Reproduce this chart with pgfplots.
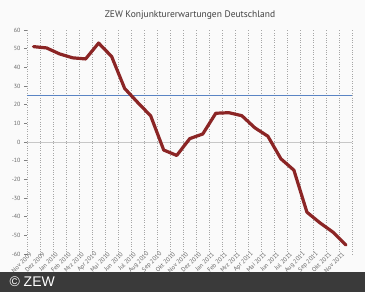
\documentclass[border=0pt]{standalone}
\usepackage{pgfplots}
\pgfplotsset{compat=1.18}
\usepackage{fontspec}
\setmainfont{PT Sans}
\newfontfamily\arialfont{Liberation Sans}
\definecolor{zewred}{HTML}{8B2525}
\definecolor{zewblue}{HTML}{5A84C4}
\definecolor{labgray}{HTML}{666666}
\definecolor{band}{HTML}{3A3A3A}
\begin{document}
\begin{tikzpicture}[x=1pt,y=1pt]
\fill[white!96!gray] (0,0) rectangle (365,292);
\useasboundingbox (0,0) rectangle (365,292);
\node[text=black!75, font=\fontsize{9.5}{10}\selectfont] at (190,277) {ZEW Konjunkturerwartungen Deutschland};
\begin{axis}[
  at={(27pt,38pt)}, anchor=south west,
  scale only axis, width=325.5pt, height=224pt,
  xmin=-0.5, xmax=24.5, ymin=-60, ymax=60,
  axis line style={draw=none},
  xtick={0,...,24},
  xticklabels={Nov 2009,Dez 2009,Jan 2010,Feb 2010,Mrz 2010,Apr 2010,Mai 2010,Jun 2010,Jul 2010,Aug 2010,Sep 2010,Okt 2010,Nov 2010,Dez 2010,Jan 2011,Feb 2011,Mrz 2011,Apr 2011,Mai 2011,Jun 2011,Jul 2011,Aug 2011,Sep 2011,Okt 2011,Nov 2011},
  x tick label style={rotate=45, anchor=east, font=\fontsize{6.2}{7}\selectfont, text=labgray, xshift=1.5pt, yshift=4.5pt, inner sep=0.8pt},
  major x tick style={draw=none},
  minor xtick={-0.5,0.5,...,24.5},
  minor x tick style={draw=none},
  minor x grid style={gray!70, dotted, line width=0.5pt},
  xminorgrids=true,
  ytick={-60,-50,...,60},
  y tick label style={font=\fontsize{6}{7}\selectfont, text=labgray},
  /pgf/number format/assume math mode=true,
  ytick pos=left,
  tick align=outside,
  major tick length=3pt,
  y tick style={gray, line width=0.4pt},
  extra y ticks={0},
  extra y tick labels={},
  extra y tick style={grid=major, major grid style={black!22, line width=0.6pt}, major tick length=0pt},
  clip=false,
]
\addplot[draw=zewblue, line width=1.2pt] coordinates {(-0.5,24.7) (24.5,24.7)};
\addplot[zewred, line width=3.2pt, line join=round, line cap=round] coordinates {
(0,51.1) (1,50.4) (2,47.2) (3,45.1) (4,44.5) (5,53.0) (6,45.8) (7,28.7) (8,21.2) (9,14.0)
(10,-4.3) (11,-7.2) (12,1.8) (13,4.3) (14,15.4) (15,15.7) (16,14.1) (17,7.6) (18,3.1)
(19,-9.0) (20,-15.1) (21,-37.6) (22,-43.3) (23,-48.3) (24,-55.2)};
\end{axis}
\fill[band] (0,0) rectangle (365,20);
\node[anchor=west, text=white, font=\arialfont\fontsize{14}{15}\selectfont] at (6,10) {© ZEW};
\end{tikzpicture}
\end{document}
